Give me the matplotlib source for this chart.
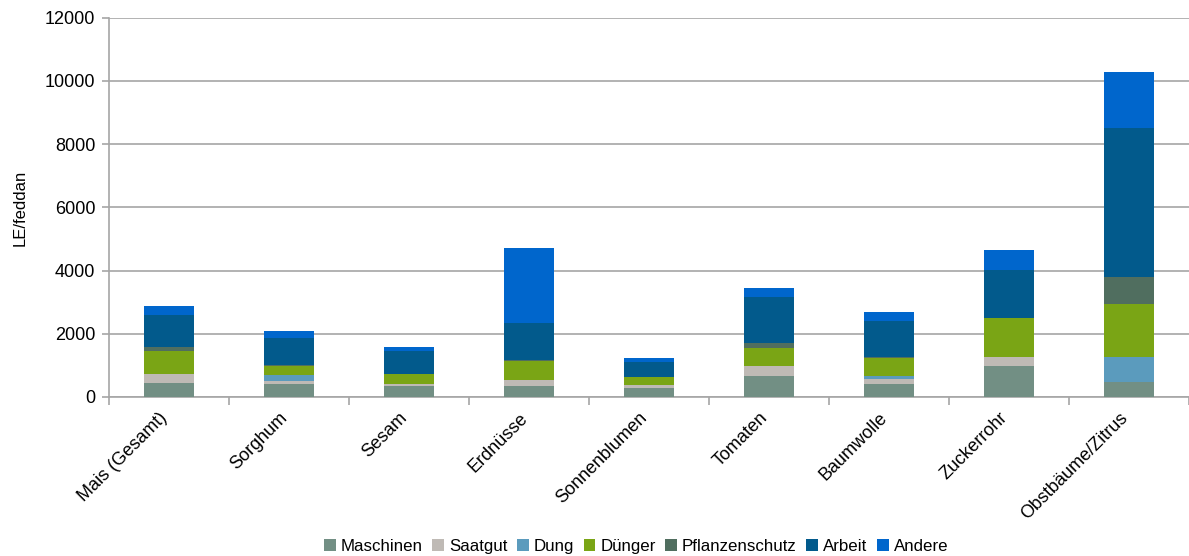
import matplotlib.pyplot as plt
import matplotlib.transforms as mtransforms
import numpy as np

plt.rcParams['font.family'] = ['Liberation Sans', 'DejaVu Sans']

# Produktionskosten je Kultur (LE/feddan)
kulturen = ['Mais (Gesamt)', 'Sorghum', 'Sesam', 'Erdnüsse', 'Sonnenblumen',
            'Tomaten', 'Baumwolle', 'Zuckerrohr', 'Obstbäume/Zitrus']

maschinen = [433, 400, 338, 338, 275, 654, 425, 970, 484]
saatgut = [294, 95, 73, 190, 95, 316, 158, 284, 0]
dung = [0, 190, 0, 0, 0, 0, 85, 0, 790]
duenger = [717, 284, 306, 600, 253, 569, 578, 1232, 1675]
pflanzenschutz = [136, 32, 0, 32, 0, 158, 32, 0, 853]
arbeit = [1000, 853, 727, 1170, 474, 1454, 1138, 1517, 4708]
andere = [285, 221, 126, 2370, 126, 284, 284, 664, 1770]

reihen = ['Maschinen', 'Saatgut', 'Dung', 'Dünger', 'Pflanzenschutz', 'Arbeit', 'Andere']
farben = ['#728f84', '#bfbab5', '#5b9bbd', '#7aa515', '#506e5f', '#025a8c', '#0066cc']
werte = [maschinen, saatgut, dung, duenger, pflanzenschutz, arbeit, andere]

fig = plt.figure(figsize=(11.89, 5.56), dpi=100)
ax = fig.add_axes([0.0917, 0.286, 0.9083, 0.682])

x = np.arange(len(kulturen))
unten = np.zeros(len(kulturen))
for name, farbe, vals in zip(reihen, farben, werte):
    ax.bar(x, vals, width=0.42, bottom=unten, color=farbe, label=name, zorder=3)
    unten += np.array(vals)

grau = '#a6a6a6'
ax.set_ylim(0, 12000)
ax.set_xlim(-0.5, len(kulturen) - 0.5)
ax.set_yticks(np.arange(0, 12001, 2000))
ax.yaxis.grid(True, color=grau, linewidth=1.2, zorder=0)
ax.tick_params(axis='y', labelsize=13, length=5, color=grau, width=1.2, pad=5)

# Kategorienamen schräg, Teilstriche zwischen den Kategorien
ax.set_xticks(x)
ax.set_xticklabels(kulturen, rotation=45, ha='right', rotation_mode='anchor', fontsize=13)
ax.tick_params(axis='x', length=0, pad=9)
versatz = mtransforms.ScaledTranslation(-10 / 100, 0, fig.dpi_scale_trans)
for lbl in ax.get_xticklabels():
    lbl.set_transform(lbl.get_transform() + versatz)
ax.set_xticks(np.arange(-0.5, len(kulturen), 1), minor=True)
ax.tick_params(axis='x', which='minor', length=6, color=grau, width=1.2)

for s in ['top', 'right']:
    ax.spines[s].set_visible(False)
for s in ['left', 'bottom']:
    ax.spines[s].set_color(grau)
    ax.spines[s].set_linewidth(1.2)

ax.set_ylabel('LE/feddan', fontsize=12, labelpad=12)

fig.legend(loc='lower center', bbox_to_anchor=(0.535, -0.024), ncol=7, frameon=False,
           fontsize=12.2, handlelength=0.7, handleheight=0.7, handletextpad=0.3,
           columnspacing=0.55)

fig.savefig('out.png', dpi=100)
